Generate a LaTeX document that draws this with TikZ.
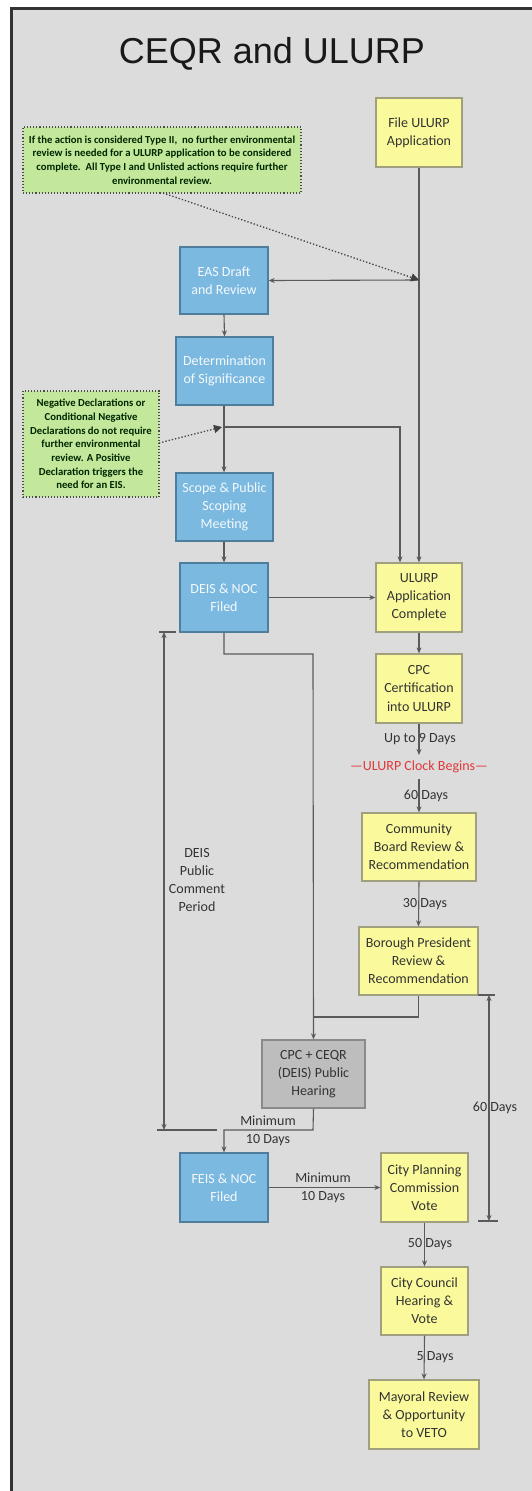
\documentclass[tikz,border=0pt]{standalone}
\usepackage{fontspec}
\setmainfont{Carlito}
\newfontfamily\titlefont{Liberation Sans}
\usetikzlibrary{arrows.meta}
\definecolor{bgray}{HTML}{DCDCDC}
\definecolor{frame}{HTML}{333333}
\definecolor{yel}{HTML}{FAFA9C}
\definecolor{yelb}{HTML}{A0A080}
\definecolor{blu}{HTML}{7BB9E0}
\definecolor{blub}{HTML}{4F7E9C}
\definecolor{grn}{HTML}{C3E89C}
\definecolor{gry}{HTML}{BDBDBD}
\definecolor{gryb}{HTML}{8A8A8A}
\definecolor{linec}{HTML}{5A5A5A}
\definecolor{txt}{HTML}{333333}
\definecolor{clock}{HTML}{E0383C}
\tikzset{
  box/.style={rectangle, draw, line width=1.3pt, align=center, inner sep=2pt,
    font=\fontsize{14}{18}\selectfont},
  ybox/.style={box, fill=yel, draw=yelb, text=txt},
  bbox/.style={box, fill=blu, draw=blub, text=white!92!blu},
  gbox/.style={box, fill=gry, draw=gryb, text=txt},
  note/.style={rectangle, fill=grn, draw=black!70, dotted, line width=1.1pt, align=center,
    inner sep=2pt, text=black!85!green, font=\bfseries\fontsize{10.7}{13.7}\selectfont},
  conn/.style={draw=linec, line width=1.1pt, -{Stealth[length=6pt,width=5pt]}},
  plain/.style={draw=linec, line width=1.1pt},
  dotarrow/.style={draw=black!75, dotted, line width=1.3pt, -{Triangle[length=8pt,width=8pt]}},
  lbl/.style={text=txt, align=center, font=\fontsize{14}{18}\selectfont, inner sep=0pt},
}
\begin{document}
\begin{tikzpicture}[x=1pt,y=-1pt]
\useasboundingbox (0,0) rectangle (532,1491);
\clip (0,0) rectangle (532,1491);
\fill[white] (0,0) rectangle (532,1491);
\draw[frame, line width=3pt, fill=bgray] (11,8) rectangle (545,1505);

\node[font=\titlefont\fontsize{36}{40}\selectfont, text=black!90] (title) at (272,54) {CEQR and ULURP};

% boxes
\node[ybox, minimum width=86pt, minimum height=69pt] (file) at (419,132.5) {File ULURP\\Application};
\node[bbox, minimum width=88pt, minimum height=67pt] (eas) at (224,280.5) {EAS Draft\\and Review};
\node[bbox, minimum width=97pt, minimum height=68pt] (det) at (224.5,371) {Determination\\of Significance};
\node[bbox, minimum width=97pt, minimum height=68pt] (scope) at (224.5,507) {Scope \& Public\\Scoping\\Meeting};
\node[bbox, minimum width=88pt, minimum height=69pt] (deis) at (224,597.5) {DEIS \& NOC\\Filed};
\node[ybox, minimum width=86pt, minimum height=69pt] (ucomp) at (419,597.5) {ULURP\\Application\\Complete};
\node[ybox, minimum width=86pt, minimum height=69pt] (cert) at (419,688.5) {CPC\\Certification\\into ULURP};
\node[ybox, minimum width=114pt, minimum height=68pt] (cb) at (419,847) {Community\\Board Review \&\\Recommendation};
\node[ybox, minimum width=119pt, minimum height=68pt] (bp) at (418.5,961) {Borough President\\Review \&\\Recommendation};
\node[gbox, minimum width=103pt, minimum height=68pt] (hear) at (313.5,1074) {CPC + CEQR\\(DEIS) Public\\Hearing};
\node[bbox, minimum width=88pt, minimum height=69pt] (feis) at (224,1187.5) {FEIS \& NOC\\Filed};
\node[ybox, minimum width=87pt, minimum height=69pt] (cpcv) at (424.5,1187.5) {City Planning\\Commission\\Vote};
\node[ybox, minimum width=87pt, minimum height=68pt] (council) at (424.5,1301) {City Council\\Hearing \&\\Vote};
\node[ybox, minimum width=110pt, minimum height=69pt] (mayor) at (424,1414.5) {Mayoral Review\\\& Opportunity\\to VETO};

% notes
\node[note, minimum width=278pt, minimum height=66pt] (note1) at (162,160)
  {If the action is considered Type II,\ \ no further environmental\\review is needed for a ULURP application to be considered\\complete.\ \ All Type I and Unlisted actions require further\\environmental review.};
\node[note, minimum width=136pt, minimum height=106pt] (note2) at (91,444)
  {Negative Declarations or\\Conditional Negative\\Declarations do not require\\further environmental\\review. A Positive\\Declaration triggers the\\need for an EIS.};

% junction coordinates
\coordinate (j1) at (419,280);
\coordinate (j2) at (224,427);
\coordinate (n1) at (163,193);
\coordinate (n2) at (159,443);
\coordinate (c1) at (419,755);
\coordinate (c2) at (419,779);
\coordinate (d1) at (224,654);
\coordinate (d2) at (313,654);
\coordinate (b1) at (418.5,1017);
\coordinate (b2) at (313,1017);
\coordinate (h1) at (313,1130);
\coordinate (h2) at (224,1130);

% connectors
\draw[conn] (file.south) -- (ucomp.north);
\draw[conn] (j1) -- (eas.east);
\draw[dotarrow] (n1) -- (j1);
\draw[conn] (eas.south) -- (det.north);
\draw[conn] (det.south -| j2) -- (scope.north -| j2);
\draw[conn] (j2) -| ([xshift=-19pt]ucomp.north);
\draw[dotarrow] (n2) -- ([xshift=-2pt]j2);
\draw[conn] (scope.south -| deis) -- (deis.north);
\draw[conn] (deis.east) -- (ucomp.west);
\draw[conn] (ucomp.south) -- (cert.north);
\draw[conn] (cert.south) -- (c1);
\node[lbl] (l9) at (420,739) {Up to 9 Days};
\node[lbl, text=clock] (clk) at (419,767) {---ULURP Clock Begins---};
\draw[conn] (c2) -- (cb.north);
\node[lbl] (l60a) at (426,796) {60 Days};
\draw[conn] (cb.south) -- (bp.north);
\node[lbl] (l30) at (425,904) {30 Days};
\draw[conn] (deis.south) -- (d1) -- (d2) -- (hear.north);
\draw[plain] (bp.south) -- (b1) -- (b2);
\draw[conn] (hear.south) -- (h1) -- (h2) -- (feis.north);
\node[lbl] (lmin1) at (268,1131) {Minimum\\10 Days};
\draw[conn] (feis.east) -- (cpcv.west);
\node[lbl] (lmin2) at (323,1187.5) {Minimum\\10 Days};
\draw[conn] (cpcv.south) -- (council.north);
\node[lbl] (l50) at (430,1244) {50 Days};
\draw[conn] (council.south) -- (mayor.north);
\node[lbl] (l5) at (435,1357) {5 Days};

% left bracket
\coordinate (lt1) at (159,632); \coordinate (lt2) at (176,632);
\coordinate (lb1) at (157,1130); \coordinate (lb2) at (217,1130);
\coordinate (lv1) at (164,632); \coordinate (lv2) at (164,1130);
\draw[plain] (lt1) -- (lt2);
\draw[plain] (lb1) -- (lb2);
\draw[draw=linec, line width=1.1pt, {Stealth[length=6pt,width=5pt]}-{Stealth[length=6pt,width=5pt]}] (lv1) -- (lv2);
\node[lbl] (ldeis) at (197,880) {DEIS\\Public\\Comment\\Period};

% right bracket
\coordinate (rt1) at (478,995); \coordinate (rt2) at (495,995);
\coordinate (rb1) at (478,1221); \coordinate (rb2) at (498,1221);
\coordinate (rv1) at (489,995); \coordinate (rv2) at (489,1221);
\draw[plain] (rt1) -- (rt2);
\draw[plain] (rb1) -- (rb2);
\draw[draw=linec, line width=1.1pt, {Stealth[length=6pt,width=5pt]}-{Stealth[length=6pt,width=5pt]}] (rv1) -- (rv2);
\node[lbl] (l60b) at (495,1108) {60 Days};
\end{tikzpicture}
\end{document}
